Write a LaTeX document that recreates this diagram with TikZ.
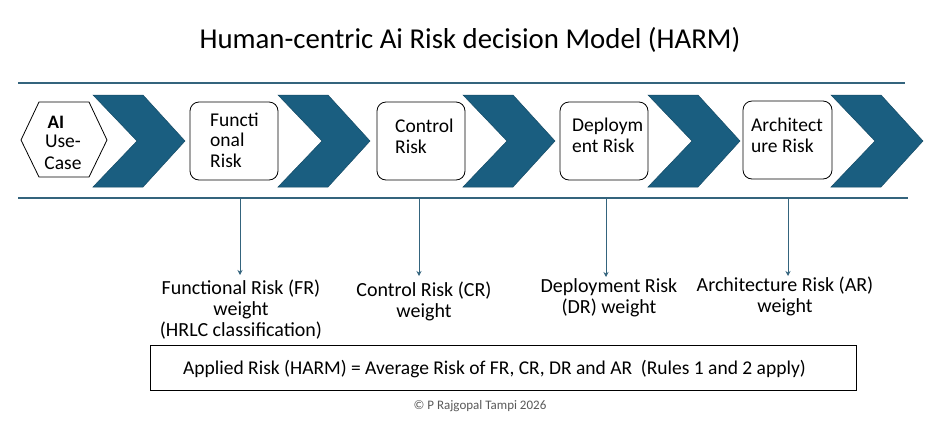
\documentclass[tikz,border=0pt]{standalone}
\usepackage{fontspec}
\setmainfont{Carlito}
\usetikzlibrary{arrows.meta}
\definecolor{teal}{RGB}{26,94,128}
\definecolor{lin}{RGB}{52,100,125}
\tikzset{
  chev/.style={fill=teal,draw=teal!80!black,line width=0.5pt},
  riskbox/.style={draw=black,line width=0.8pt,rounded corners=9pt,fill=white},
  boxtxt/.style={font=\fontsize{19.5}{20.5}\selectfont,align=left,inner sep=0pt,anchor=base west},
  lbl/.style={font=\fontsize{20}{21}\selectfont,align=center,inner sep=0pt,anchor=base},
  conn/.style={draw=lin,line width=0.8pt,-{Stealth[length=5pt,width=5pt]}},
  rule/.style={draw=lin,line width=1.2pt}
}
\begin{document}
\begin{tikzpicture}[x=1pt,y=-1pt]
\useasboundingbox (0,0) rectangle (940,424);
\node[font=\fontsize{28.8}{34}\selectfont] (title) at (470,40) {Human-centric Ai Risk decision Model (HARM)};
\coordinate (tl) at (18,83); \coordinate (tr) at (905,83);
\coordinate (bl) at (18,198); \coordinate (br) at (908,198);
\draw[rule] (tl) -- (tr);
\draw[rule] (bl) -- (br);
% hexagon
\draw[line width=0.8pt] (21,140) -- (39,102) -- (89,102) -- (107,140) -- (89,177) -- (39,177) -- cycle;
\node[font=\bfseries\fontsize{19}{19}\selectfont,inner sep=0pt,anchor=base] (ai) at (56,128) {AI};
\node[font=\fontsize{19.5}{22}\selectfont,align=center,inner sep=0pt,anchor=base] (uc) at (63,169) {Use-\\Case};
% chevrons
\foreach \x in {93,278,463,648,831}{
  \fill[chev] (\x,95) -- (\x+50,95) -- (\x+92,141) -- (\x+50,187) -- (\x,187) -- (\x+44,141) -- cycle;
}
% boxes
\draw[riskbox] (190,102) rectangle (278,180);
\draw[riskbox] (377,102) rectangle (465,180);
\draw[riskbox] (560,102) rectangle (648,180);
\draw[riskbox] (743,101) rectangle (832,179);
\node[boxtxt] (b1) at (210,167) {Functi\\onal\\Risk};
\node[boxtxt] (b2) at (395,153) {Control\\Risk};
\node[boxtxt] (b3) at (572,152) {Deploym\\ent Risk};
\node[boxtxt] (b4) at (751,152) {Architect\\ure Risk};
% connectors
\coordinate (s1) at (240,198); \coordinate (s2) at (419,198);
\coordinate (s3) at (606,198); \coordinate (s4) at (788,198);
\coordinate (e1) at (240,275); \coordinate (e2) at (419,276);
\coordinate (e3) at (606,277); \coordinate (e4) at (788,276);
\node[lbl] (l1) at (241,336) {Functional Risk (FR)\\weight\\(HRLC classification)};
\node[lbl] (l2) at (424,317) {Control Risk (CR)\\weight};
\node[lbl] (l3) at (609,313) {Deployment Risk\\(DR) weight};
\node[lbl] (l4) at (785,312) {Architecture Risk (AR)\\weight};
\draw[conn] (s1) -- (e1);
\draw[conn] (s2) -- (e2);
\draw[conn] (s3) -- (e3);
\draw[conn] (s4) -- (e4);
% bottom box
\draw[line width=1pt] (150,345) rectangle (856,390);
\node[font=\fontsize{19.5}{20}\selectfont,inner sep=0pt,anchor=base] (applied) at (494.5,374) {Applied Risk (HARM) = Average Risk of FR, CR, DR and AR\ \ (Rules 1 and 2 apply)};
\node[font=\fontsize{13}{15}\selectfont,text=black!65,inner sep=0pt,anchor=base] (copy) at (480,409) {© P Rajgopal Tampi 2026};
\end{tikzpicture}
\end{document}
